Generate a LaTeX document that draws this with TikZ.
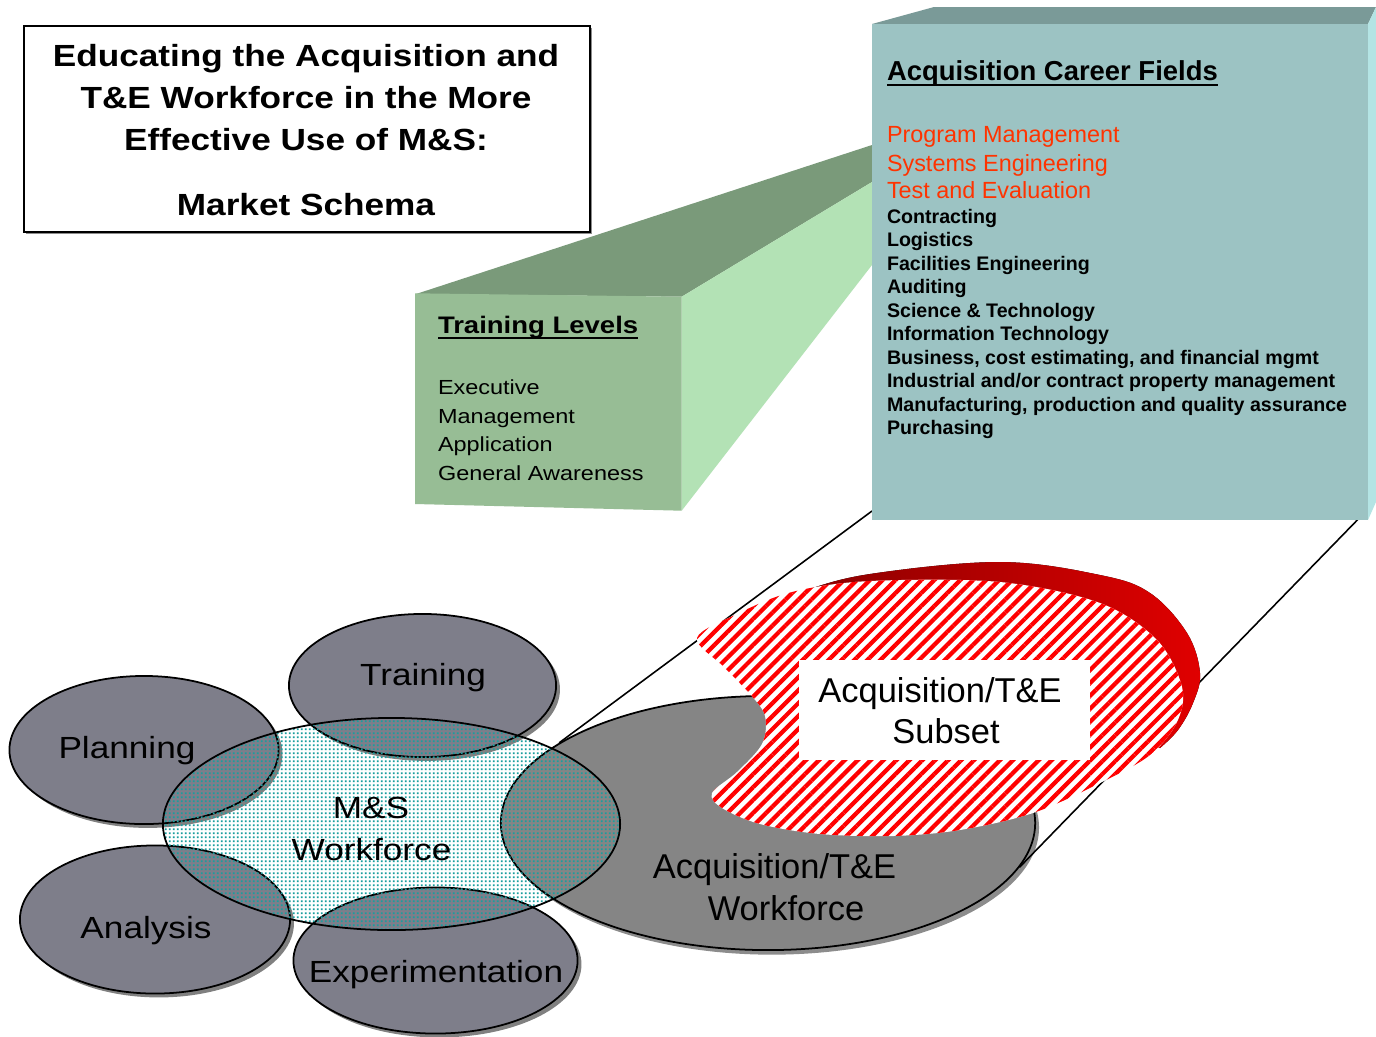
\documentclass[tikz,border=0pt]{standalone}
\usepackage{fontspec}
\setmainfont{Liberation Sans}
\newfontfamily\widesans[FakeStretch=1.15]{Liberation Sans}
\usetikzlibrary{shapes.geometric,shadows,patterns,patterns.meta}

\definecolor{greenfront}{HTML}{97BD95}
\definecolor{greentop}{HTML}{7A9A7A}
\definecolor{greenside}{HTML}{B3E2B5}
\definecolor{tealfront}{HTML}{9CC3C3}
\definecolor{tealtop}{HTML}{7A9A98}
\definecolor{tealside}{HTML}{B4E4E4}
\definecolor{satgray}{HTML}{7E7E8A}
\definecolor{acqgray}{HTML}{858585}
\definecolor{dotteal}{HTML}{1A9E9E}
\definecolor{fieldred}{HTML}{FF3300}
\definecolor{banddark}{HTML}{7E0000}
\definecolor{bandbright}{HTML}{E00000}

% fine square dots used for the M&S workforce overlay
\pgfdeclarepatternformonly{tealdots}{\pgfpointorigin}{\pgfqpoint{1.2pt}{1.2pt}}{\pgfqpoint{1.2pt}{1.2pt}}%
  {\pgfpathrectangle{\pgfqpoint{0.3pt}{0.3pt}}{\pgfqpoint{0.6pt}{0.6pt}}\pgfusepath{fill}}

\newcommand\msTitleFont{\widesans\bfseries\fontsize{8.7}{10}\selectfont}
\newcommand\msHeadFont{\widesans\bfseries\fontsize{6.8}{8}\selectfont}
\newcommand\msLevelFont{\widesans\fontsize{5.8}{7}\selectfont}
\newcommand\msFieldHead{\bfseries\fontsize{7.8}{9}\selectfont}
\newcommand\msRedFont{\fontsize{6.65}{8}\selectfont}
\newcommand\msListFont{\bfseries\fontsize{5.58}{6.7}\selectfont}
\newcommand\msBlobFont{\widesans\fontsize{8.7}{10}\selectfont}
\newcommand\msAcqFont{\fontsize{9.8}{11}\selectfont}

\begin{document}
\begin{tikzpicture}[x=0.01cm, y=-0.01cm,
  txt/.style={inner sep=0pt, outer sep=0pt},
  satell/.style={ellipse, draw=black, line width=0.5pt, fill=satgray, inner sep=0pt,
    drop shadow={shadow xshift=1.1pt, shadow yshift=-1.1pt, fill=black!50, opacity=1}},
  acqell/.style={ellipse, draw=black, line width=0.5pt, fill=acqgray, inner sep=0pt,
    drop shadow={shadow xshift=1.1pt, shadow yshift=-1.3pt, fill=black!45, opacity=1}},
  msell/.style={ellipse, draw=black, line width=0.5pt, inner sep=0pt,
    pattern=tealdots, pattern color=dotteal},
  leader/.style={draw=black, line width=0.45pt},
  uline/.style={line width=0.55pt}]

\fill[white] (0,0) rectangle (1376,1036);
\useasboundingbox (0,0) rectangle (1376,1036);

% ---------- title box ----------
\fill[black!45] (26,28) rectangle (592,234);
\node[draw=black, line width=0.55pt, fill=white, inner sep=0pt, anchor=north west,
      minimum width=5.66cm, minimum height=2.06cm] (titlebox) at (23,25) {};
\node[txt, anchor=base, font=\msTitleFont] (title1) at (306,66.5) {Educating the Acquisition and};
\node[txt, anchor=base, font=\msTitleFont] (title2) at (306,108.5) {T\&E Workforce in the More};
\node[txt, anchor=base, font=\msTitleFont] (title3) at (306,150.5) {Effective Use of M\&S:};
\node[txt, anchor=base, font=\msTitleFont] (title4) at (306,215) {Market Schema};

% ---------- workforce ellipses ----------
\node[acqell, minimum width=5.34cm, minimum height=2.54cm] (acq) at (768,823) {};
\node[satell, minimum width=2.67cm, minimum height=1.43cm] (training) at (422.5,685.5) {};
\node[satell, minimum width=2.69cm, minimum height=1.48cm] (planning) at (144,750) {};
\node[satell, minimum width=2.70cm, minimum height=1.48cm] (analysis) at (155,919.5) {};
\node[satell, minimum width=2.84cm, minimum height=1.46cm] (experiment) at (435.5,960.5) {};
\node[msell, minimum width=4.57cm, minimum height=2.12cm] (ms) at (391.5,824) {};

% ---------- leader lines from the career-field box ----------
\coordinate (tealL) at (872,511);
\coordinate (tealR) at (1368,509);
\draw[leader] (tealL) -- (acq.159.6);
\draw[leader] (tealR) -- (acq.-10);

% ---------- acquisition / T&E subset disc ----------
\fill[left color=banddark, right color=bandbright]
  plot[smooth, tension=0.6] coordinates {(745,612) (800,592) (870,574) (1000,562) (1100,575)
     (1150,593) (1187,633) (1200,673) (1193,703) (1178,730) (1160,748)}
  -- (1050,720) -- (850,650) -- cycle;
\path[preaction={fill=white}, pattern={Lines[angle=45, distance=2.6pt, line width=1.2pt]}, pattern color=red]
  plot[smooth cycle, tension=0.55] coordinates {(697,638) (737,614) (792,592) (870,581)
     (1000,582) (1100,603) (1157,640) (1182,687) (1177,722) (1150,755) (1100,783)
     (1033,813) (960,830) (893,836) (820,834) (760,824) (722,808) (712,793)
     (737,772) (762,744) (765,716) (750,694) (724,667)};
\node[fill=white, inner sep=0pt, minimum width=2.91cm, minimum height=1.0cm] (subsetbox) at (944.5,710) {};

% ---------- training levels block ----------
\fill[greentop] (416,294) -- (872,145) -- (872,182) -- (681.7,296.7) -- cycle;
\fill[greenside] (681.7,296.7) -- (872,182) -- (872,265) -- (681.7,510.7) -- cycle;
\fill[greenfront] (415,293.3) -- (681.7,296.7) -- (681.7,510.7) -- (415,504) -- cycle;

% ---------- career fields block ----------
\fill[tealtop] (872,24) -- (934,7) -- (1376,7) -- (1368,24) -- cycle;
\fill[tealside] (1368,24) -- (1376,7) -- (1376,502) -- (1368,520) -- cycle;
\fill[tealfront] (872,24) rectangle (1368,520);

% ---------- training levels text ----------
\node[txt, anchor=base west, font=\msHeadFont] (tlhead) at (438,333.3) {Training Levels};
\draw[uline] ([yshift=-1.25pt]tlhead.base west) -- ([yshift=-1.25pt]tlhead.base east);
\node[txt, anchor=base west, font=\msLevelFont] (lv1) at (438,394.3) {Executive};
\node[txt, anchor=base west, font=\msLevelFont] (lv2) at (438,423.3) {Management};
\node[txt, anchor=base west, font=\msLevelFont] (lv3) at (438,451.7) {Application};
\node[txt, anchor=base west, font=\msLevelFont] (lv4) at (438,480) {General Awareness};

% ---------- career fields text ----------
\node[txt, anchor=base west, font=\msFieldHead] (cfhead) at (887,80) {Acquisition Career Fields};
\draw[uline] ([yshift=-1.4pt]cfhead.base west) -- ([yshift=-1.4pt]cfhead.base east);
\node[txt, anchor=base west, font=\msRedFont, text=fieldred] (cf1) at (887,142.3) {Program Management};
\node[txt, anchor=base west, font=\msRedFont, text=fieldred] (cf2) at (887,171) {Systems Engineering};
\node[txt, anchor=base west, font=\msRedFont, text=fieldred] (cf3) at (887,198.7) {Test and Evaluation};
\foreach \n/\lbl [count=\i from 0] in {cf4/{Contracting}, cf5/{Logistics}, cf6/{Facilities Engineering},
    cf7/{Auditing}, cf8/{Science \& Technology}, cf9/{Information Technology},
    cf10/{Business, cost estimating, and financial mgmt},
    cf11/{Industrial and{/}or contract property management},
    cf12/{Manufacturing, production and quality assurance}, cf13/{Purchasing}}
  \node[txt, anchor=base west, font=\msListFont] (\n) at (887,223.3+23.52*\i) {\lbl};

% ---------- ellipse labels ----------
\node[txt, anchor=base, font=\msBlobFont] (trainingtxt) at (423,685) {Training};
\node[txt, anchor=base, font=\msBlobFont] (planningtxt) at (127,758) {Planning};
\node[txt, anchor=base, font=\msBlobFont] (analysistxt) at (146,938) {Analysis};
\node[txt, anchor=base, font=\msBlobFont] (experimenttxt) at (436,982) {Experimentation};
\node[txt, anchor=base, font=\msBlobFont] (mstxt1) at (371,818) {M\&S};
\node[txt, anchor=base, font=\msBlobFont] (mstxt2) at (371.5,860) {Workforce};
\node[txt, anchor=base, font=\msAcqFont] (acqtxt1) at (774.5,878) {Acquisition/T\&E};
\node[txt, anchor=base, font=\msAcqFont] (acqtxt2) at (786,920) {Workforce};
\node[txt, anchor=base, font=\msAcqFont] (subtxt1) at (940,702) {Acquisition/T\&E};
\node[txt, anchor=base, font=\msAcqFont] (subtxt2) at (946,743) {Subset};

\end{tikzpicture}
\end{document}
